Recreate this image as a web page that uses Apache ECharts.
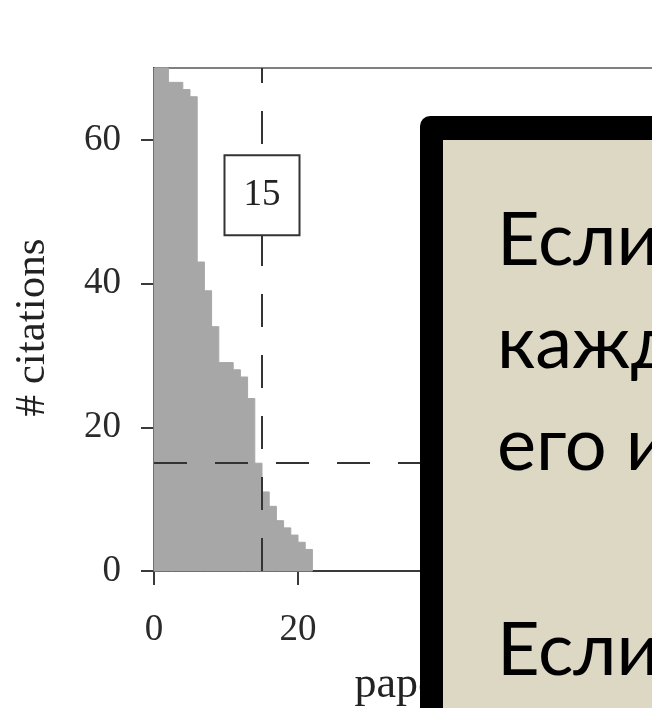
<!DOCTYPE html>
<html>
<head>
<meta charset="utf-8">
<script src="https://cdn.jsdelivr.net/npm/echarts@6/dist/echarts.min.js"></script>
<style>
html,body{margin:0;padding:0;background:#fff;}
#chart{width:652px;height:708px;}
</style>
</head>
<body>
<div id="chart"></div>
<script>
// citations of each paper, ranked from most cited (rank 1) downwards
const citations = [70, 70, 68, 68, 67, 66, 43, 39, 34, 29, 29, 28, 27, 24, 15, 11, 9, 7, 6, 5, 4, 3];
const paperRanks = citations.map(function (_, i) { return i + 1; });
const hIndex = [15];
const xTicks = [0, 20, 40, 60];
const yTicks = [0, 20, 40, 60];
const xName = 'papers';
const yName = '# citations';
const boxLines = ['Если', 'кажд', 'его и', '', 'Если'];

const chart = echarts.init(document.getElementById('chart'), null, {renderer: 'canvas'});
const serif = 'Liberation Serif';
const axisCol = '#3a3a3a';
const barCol = '#a7a7a7';

const option = {
  animation: false,
  backgroundColor: '#ffffff',
  grid: {
    left: 154, top: 68, width: 504, height: 503,
    show: true, borderColor: '#808080', borderWidth: 2,
    backgroundColor: 'transparent',
    outerBoundsMode: 'none', containLabel: false
  },
  xAxis: {
    type: 'value', min: 0, max: 70, interval: 20,
    name: xName, nameLocation: 'middle', nameGap: 92,
    nameTextStyle: {fontFamily: serif, fontSize: 44, color: '#222', padding: [0, 0, 0, 12]},
    axisLine: {show: true, onZero: false, lineStyle: {color: axisCol, width: 2}},
    axisTick: {show: true, inside: false, length: 14, customValues: xTicks, lineStyle: {color: axisCol, width: 2}},
    axisLabel: {show: true, margin: 41, customValues: xTicks, fontFamily: serif, fontSize: 37, color: '#2a2a2a'},
    splitLine: {show: false}
  },
  yAxis: {
    type: 'value', min: 0, max: 70, interval: 20,
    name: yName, nameLocation: 'middle', nameGap: 100,
    nameTextStyle: {fontFamily: serif, fontSize: 43, color: '#222', padding: [0, 16, 0, 0]},
    axisLine: {show: true, onZero: false, lineStyle: {color: axisCol, width: 2}},
    axisTick: {show: true, inside: false, length: 13, customValues: yTicks, lineStyle: {color: axisCol, width: 2}},
    axisLabel: {show: true, margin: 33, customValues: yTicks, fontFamily: serif, fontSize: 37, color: '#2a2a2a'},
    splitLine: {show: false}
  },
  series: [
    {
      type: 'custom',
      z: 1,
      silent: true,
      data: paperRanks.map(function (r, i) { return [r, citations[i]]; }),
      encode: {x: 0, y: 1},
      renderItem: function (params, api) {
        const rank = api.value(0), c = api.value(1);
        const p0 = api.coord([rank - 1, c]);
        const p1 = api.coord([rank, 0]);
        return {
          type: 'rect',
          shape: {x: p0[0], y: p0[1], width: p1[0] - p0[0], height: p1[1] - p0[1]},
          style: {fill: barCol, stroke: barCol, lineWidth: 1}
        };
      }
    },
    {
      type: 'line',
      z: 3,
      data: [],
      silent: true,
      markLine: {
        silent: true,
        symbol: ['none', 'none'],
        label: {show: false},
        lineStyle: {type: [33, 28], color: '#333', width: 2},
        data: [
          [{coord: [hIndex[0], 0]}, {coord: [hIndex[0], 70]}],
          [{coord: [0, hIndex[0]]}, {coord: [70, hIndex[0]]}]
        ]
      },
      markPoint: {
        silent: true,
        symbol: 'rect',
        symbolSize: 1,
        itemStyle: {color: 'rgba(0,0,0,0)'},
        data: [{coord: [hIndex[0], 52.3], value: hIndex[0]}],
        label: {
          show: true, position: 'inside',
          formatter: function (p) { return String(p.value); },
          fontFamily: serif, fontSize: 37, lineHeight: 40, color: '#222',
          backgroundColor: '#ffffff', borderColor: '#333', borderWidth: 2,
          padding: [19, 18]
        }
      }
    }
  ],
  graphic: [
    {
      type: 'rect', z: 100, silent: true,
      shape: {x: 420, y: 116, width: 400, height: 700, r: 10},
      style: {fill: '#000000'}
    },
    {
      type: 'rect', z: 101, silent: true,
      shape: {x: 443, y: 140, width: 400, height: 700},
      style: {fill: '#dcd8c4'}
    },
    {
      type: 'text', z: 102, silent: true,
      x: 497, y: 190,
      style: {
        text: boxLines.join('\n'),
        fontFamily: 'Lato', fontSize: 74, lineHeight: 102.5,
        fill: '#000000', align: 'left', verticalAlign: 'top'
      }
    }
  ]
};
chart.setOption(option);
</script>
</body>
</html>
